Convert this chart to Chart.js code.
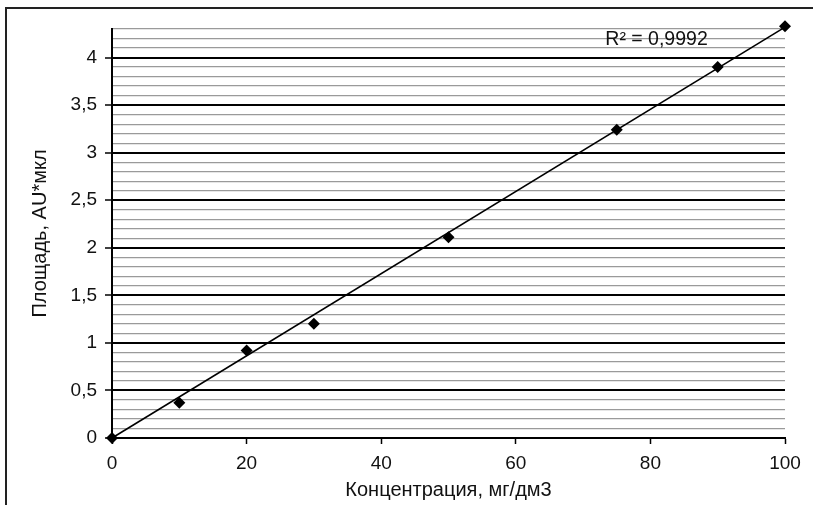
<!DOCTYPE html>
<html>
<head>
<meta charset="utf-8">
<script src="https://cdn.jsdelivr.net/npm/chart.js@4.4.1/dist/chart.umd.min.js"></script>
<style>
  html, body { margin: 0; padding: 0; background: #fff; }
  #wrap { position: relative; width: 813px; height: 505px; overflow: hidden; }
  #frame { position: absolute; left: 5px; top: 7px; width: 900px; height: 600px;
           border-left: 2px solid #222; border-top: 2px solid #222; pointer-events: none; }
  canvas { position: absolute; left: 0; top: 0; }
</style>
</head>
<body>
<div id="wrap">
  <canvas id="c" width="813" height="505"></canvas>
  <div id="frame"></div>
</div>
<script>
// Data
const concentrations = [0, 10, 20, 30, 50, 75, 90, 100];
const areas = [0, 0.37, 0.92, 1.20, 2.11, 3.24, 3.90, 4.33];
const trendX = [0, 100];
const trendY = [0, 4.32];
const xTicks = [0, 20, 40, 60, 80, 100];
const yMajorStep = 0.5;
const yMinorStep = 0.1;
const yMax = 4.3;
const r2Label = 'R² = 0,9992';
const xTitle = 'Концентрация, мг/дм3';
const yTitle = 'Площадь, AU*мкл';

const FONT = "'Liberation Sans', Arial, sans-serif";
const isMajor = v => Math.abs(v / yMajorStep - Math.round(v / yMajorStep)) < 1e-6;
const fmt = v => String(Math.round(v * 10) / 10).replace('.', ',');

const r2Plugin = {
  id: 'r2',
  afterDatasetsDraw(chart) {
    const { ctx, scales } = chart;
    const x = scales.x.getPixelForValue(73.3);
    const y = scales.y.getPixelForValue(4.13);
    ctx.save();
    ctx.font = '19.5px ' + FONT;
    ctx.fillStyle = '#111';
    ctx.textBaseline = 'alphabetic';
    ctx.textAlign = 'left';
    ctx.fillText(r2Label, x, y);
    ctx.restore();
  }
};

new Chart(document.getElementById('c'), {
  type: 'scatter',
  data: {
    datasets: [
      {
        type: 'line',
        data: trendX.map((x, i) => ({ x, y: trendY[i] })),
        borderColor: '#000',
        borderWidth: 1.6,
        pointRadius: 0,
        fill: false,
        clip: false,
        order: 2
      },
      {
        data: concentrations.map((x, i) => ({ x, y: areas[i] })),
        pointStyle: 'rectRot',
        pointRadius: 6,
        pointBackgroundColor: '#000',
        pointBorderColor: '#000',
        pointBorderWidth: 0,
        showLine: false,
        clip: false,
        order: 1
      }
    ]
  },
  options: {
    responsive: false,
    animation: false,
    layout: { padding: { left: 0, right: 28, top: 29, bottom: 0 } },
    plugins: { legend: { display: false }, tooltip: { enabled: false } },
    scales: {
      x: {
        type: 'linear',
        min: 0, max: 100,
        afterBuildTicks: s => { s.ticks = xTicks.map(v => ({ value: v })); },
        afterFit: s => { s.height = 67; },
        border: { color: '#000', width: 2 },
        grid: { drawOnChartArea: false, drawTicks: true, tickLength: 6, tickColor: '#000', tickWidth: 1.5 },
        ticks: { color: '#111', font: { family: FONT, size: 19 }, padding: 8, maxRotation: 0 },
        title: { display: true, text: xTitle, color: '#111', font: { family: FONT, size: 20 }, padding: { top: 0, bottom: 3 } }
      },
      y: {
        type: 'linear',
        min: 0, max: yMax,
        afterBuildTicks: s => {
          const t = [];
          for (let i = 0; i <= Math.round(yMax / yMinorStep); i++) t.push({ value: Math.round(i * yMinorStep * 10) / 10 });
          s.ticks = t;
        },
        afterFit: s => { s.width = 112; },
        border: { color: '#000', width: 2 },
        grid: {
          drawTicks: true,
          tickLength: 7,
          color: c => (c.tick && isMajor(c.tick.value)) ? '#000' : '#9a9a9a',
          lineWidth: c => (c.tick && isMajor(c.tick.value)) ? 2 : 1.2,
          tickColor: c => (c.tick && isMajor(c.tick.value)) ? '#000' : 'rgba(0,0,0,0)',
          tickWidth: 1.5
        },
        ticks: {
          autoSkip: false,
          color: '#111',
          font: { family: FONT, size: 19 },
          padding: 8,
          callback: v => isMajor(v) ? fmt(v) : ''
        },
        title: { display: true, text: yTitle, color: '#111', font: { family: FONT, size: 20 }, padding: { top: 28, bottom: 0 } }
      }
    }
  },
  plugins: [r2Plugin]
});
</script>
</body>
</html>
